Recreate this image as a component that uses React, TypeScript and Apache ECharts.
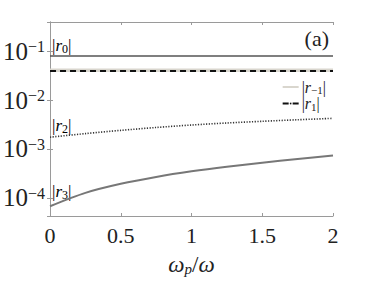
import React, { useEffect, useRef } from "react";
import * as echarts from "echarts";

const xValues = [0, 0.25, 0.5, 0.75, 1, 1.25, 1.5, 1.75, 2];
const r0 = [0.08, 0.08, 0.08, 0.08, 0.08, 0.08, 0.08, 0.08, 0.08];
const rMinus1 = [0.041, 0.041, 0.041, 0.041, 0.041, 0.041, 0.041, 0.041, 0.041];
const r1 = [0.0395, 0.0395, 0.0395, 0.0395, 0.0395, 0.0395, 0.0395, 0.0395, 0.0395];
const r2 = [1.74e-3, 2.06e-3, 2.4e-3, 2.75e-3, 3.09e-3, 3.4e-3, 3.68e-3, 3.96e-3, 4.23e-3];
const r3 = [6.7e-5, 1.26e-4, 1.93e-4, 2.67e-4, 3.48e-4, 4.33e-4, 5.22e-4, 6.21e-4, 7.33e-4];
const xTicks = [0, 0.5, 1, 1.5, 2];
const yMin = 4.23e-5;
const yMax = 0.398;

const FONT = "Liberation Serif";
const AXIS_GRAY = "#9a9a9a";

const pairs = (ys: number[]) => xValues.map((x, i) => [x, ys[i]]);

export default function App() {
  const ref = useRef<HTMLDivElement>(null);
  useEffect(() => {
    if (!ref.current) return;
    const chart = echarts.init(ref.current, null, { renderer: "svg" });
    const mathRich = {
      t: { fontFamily: FONT, fontSize: 17, color: "#222" },
      i: { fontFamily: FONT, fontSize: 17, fontStyle: "italic", color: "#222" },
      s: { fontFamily: FONT, fontSize: 12, color: "#222", verticalAlign: "bottom", padding: [7, 0, 0, 0] },
    };
    const yLabelFmt = (v: number) => {
      const l = Math.log10(v);
      const e = Math.round(l);
      if (Math.abs(l - e) > 0.01) return "";
      return `{b|10}{s|${e < 0 ? "\u2212" : ""}${Math.abs(e)}}`;
    };
    const boxAxis = {
      axisLine: { show: true, lineStyle: { color: AXIS_GRAY, width: 1 } },
      axisTick: { show: true, inside: true, length: 3, lineStyle: { color: AXIS_GRAY } },
      splitLine: { show: false },
    };
    const option: any = {
      animation: false,
      textStyle: { fontFamily: FONT },
      grid: { left: 47, right: 35, top: 22, bottom: 60 },
      xAxis: [
        {
          type: "value",
          min: xTicks[0],
          max: xTicks[xTicks.length - 1],
          interval: 0.5,
          position: "bottom",
          ...boxAxis,
          axisLabel: {
            margin: 8,
            formatter: (v: number) => `{n|${v}}`,
            rich: {
              n: { fontFamily: FONT, fontSize: 22, color: "#222" },
            },
          },
          name: "{i|ω}{s|p}{t|/}{i|ω}",
          nameLocation: "middle",
          nameGap: 37,
          nameTextStyle: {
            fontFamily: FONT,
            rich: {
              i: { fontFamily: FONT, fontSize: 23, fontStyle: "italic", color: "#222" },
              t: { fontFamily: FONT, fontSize: 23, color: "#222" },
              s: { fontFamily: FONT, fontSize: 15, fontStyle: "italic", color: "#222", verticalAlign: "bottom", padding: [8, 0, 0, 0] },
            },
          },
        },
        {
          type: "value",
          min: xTicks[0],
          max: xTicks[xTicks.length - 1],
          interval: 0.5,
          position: "top",
          ...boxAxis,
          axisLabel: { show: false },
        },
      ],
      yAxis: [
        {
          type: "log",
          logBase: 10,
          min: yMin,
          max: yMax,
          position: "left",
          ...boxAxis,
          minorTick: { show: false },
          axisLabel: {
            margin: 5,
            fontFamily: FONT,
            formatter: yLabelFmt,
            rich: {
              b: { fontFamily: FONT, fontSize: 25, color: "#222" },
              s: { fontFamily: FONT, fontSize: 16, color: "#222", verticalAlign: "top" },
            },
          },
        },
        {
          type: "log",
          logBase: 10,
          min: yMin,
          max: yMax,
          position: "right",
          ...boxAxis,
          axisLabel: { show: false },
        },
      ],
      legend: {
        orient: "vertical",
        right: 37,
        top: 74,
        itemWidth: 16,
        itemHeight: 2,
        itemGap: 0,
        data: ["r-1", "r1"],
        formatter: (name: string) =>
          name === "r-1" ? "{t||}{i|r}{s|\u22121}{t||}" : "{t||}{i|r}{s|1}{t||}",
        textStyle: {
          padding: [0, 0, 0, -2],
          rich: {
            t: { fontFamily: FONT, fontSize: 16, color: "#222" },
            i: { fontFamily: FONT, fontSize: 16, fontStyle: "italic", color: "#222" },
            s: { fontFamily: FONT, fontSize: 11, color: "#222", verticalAlign: "bottom", padding: [6, 0, 0, 0] },
          },
        },
      },
      series: [
        {
          name: "r0",
          type: "line",
          data: pairs(r0),
          symbol: "none",
          lineStyle: { color: "#555", width: 1.6 },
          itemStyle: { color: "#555" },
        },
        {
          name: "r-1",
          type: "line",
          data: pairs(rMinus1),
          symbol: "none",
          lineStyle: { color: "#d9d6ce", width: 3.5 },
          itemStyle: { color: "#d9d6ce" },
        },
        {
          name: "r1",
          type: "line",
          data: pairs(r1),
          symbol: "none",
          lineStyle: { color: "#111", width: 2, type: [6, 4] },
          itemStyle: { color: "#111" },
        },
        {
          name: "r2",
          type: "line",
          data: pairs(r2),
          symbol: "none",
          smooth: 0.3,
          lineStyle: { color: "#333", width: 1.6, type: [1.2, 1.5] },
          itemStyle: { color: "#333" },
        },
        {
          name: "r3",
          type: "line",
          data: pairs(r3),
          symbol: "none",
          smooth: 0.3,
          lineStyle: { color: "#777", width: 2 },
          itemStyle: { color: "#777" },
        },
      ],
      graphic: [
        { type: "text", left: 52, top: 37, style: { text: "{t||}{i|r}{s|0}{t||}", rich: mathRich } },
        { type: "text", left: 52, top: 117, style: { text: "{t||}{i|r}{s|2}{t||}", rich: mathRich } },
        { type: "text", left: 52, top: 183, style: { text: "{t||}{i|r}{s|3}{t||}", rich: mathRich } },
        {
          type: "text",
          right: 39,
          top: 27,
          style: { text: "(a)", fontFamily: FONT, fontSize: 22, fill: "#222" },
        },
      ],
    };
    chart.setOption(option);
    return () => chart.dispose();
  }, []);
  return (
    <div
      ref={ref}
      style={{ position: "absolute", left: 0, top: 0, width: 368, height: 281, background: "#fff" }}
    />
  );
}
